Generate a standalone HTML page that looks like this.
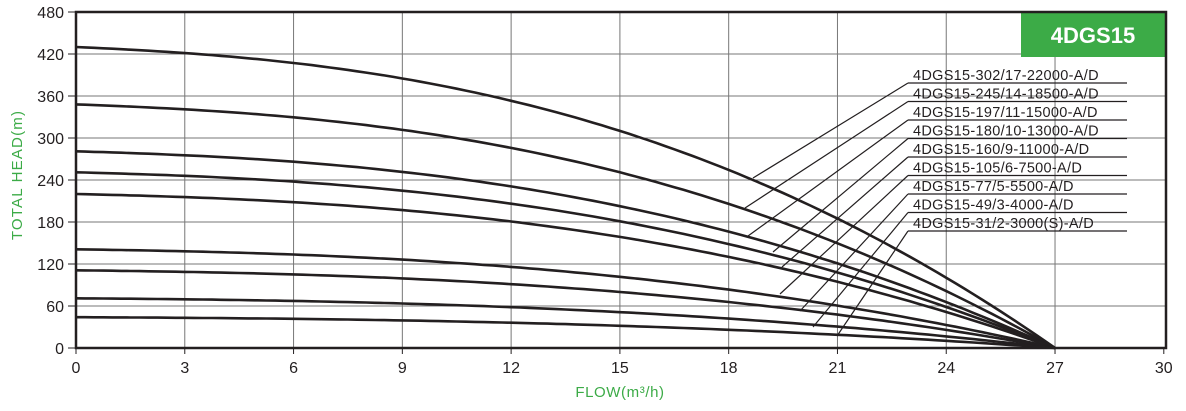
<!DOCTYPE html>
<html><head><meta charset="utf-8"><style>
body{margin:0;background:#fff;width:1186px;height:406px;overflow:hidden}
svg text{font-family:"Liberation Sans",sans-serif}
</style></head><body>
<svg id="s" width="1186" height="406" xmlns="http://www.w3.org/2000/svg"></svg>
<script>
const s=document.getElementById('s');
const X0=76,XS=36.26,Y0=348,YS=0.7;
const px=q=>X0+q*XS, py=h=>Y0-h*YS;
let h='';
for(let i=1;i<10;i++){h+=`<line x1="${px(i*3)}" y1="12" x2="${px(i*3)}" y2="348" stroke="#777" stroke-width="1"/>`;}
for(let i=1;i<8;i++){h+=`<line x1="76" y1="${py(i*60)}" x2="1166" y2="${py(i*60)}" stroke="#777" stroke-width="1"/>`;}
h+=`<rect x="1021" y="12" width="145" height="45" fill="#3cab47"/><text x="1093" y="43" text-anchor="middle" font-size="22" font-weight="bold" fill="#fff">4DGS15</text>`;
h+=`<rect x="76" y="12" width="1090" height="336" fill="none" stroke="#231f20" stroke-width="2.5"/>`;
for(let i=0;i<=10;i++){let x=px(i*3);h+=`<line x1="${x}" y1="348" x2="${x}" y2="354" stroke="#231f20"/><text x="${x}" y="373" text-anchor="middle" font-size="16" fill="#231f20">${i*3}</text>`;}
for(let i=0;i<=8;i++){let y=py(i*60);h+=`<line x1="68" y1="${y}" x2="76" y2="${y}" stroke="#231f20"/><text x="64" y="${y+6}" text-anchor="end" font-size="16" fill="#231f20">${i*60}</text>`;}
h+=`<text x="620" y="397" text-anchor="middle" font-size="15" letter-spacing="0.6" fill="#3cab47">FLOW(m³/h)</text>`;
h+=`<text transform="translate(22,175) rotate(-90)" text-anchor="middle" font-size="15" letter-spacing="1.2" fill="#3cab47">TOTAL HEAD(m)</text>`;
const H=[430,348,281,251,220,141,111,71,44];
const f=(H0,q)=>{const r=q/27;return H0*(1-0.15*r-0.85*Math.pow(r,2.5));};
H.forEach(H0=>{let d='';for(let q=0;q<=27.001;q+=0.25){d+=(q?'L':'M')+px(q).toFixed(1)+','+py(f(H0,q)).toFixed(1);}h+=`<path d="${d}" fill="none" stroke="#231f20" stroke-width="2.6"/>`;});
const L=["4DGS15-302/17-22000-A/D","4DGS15-245/14-18500-A/D","4DGS15-197/11-15000-A/D","4DGS15-180/10-13000-A/D","4DGS15-160/9-11000-A/D","4DGS15-105/6-7500-A/D","4DGS15-77/5-5500-A/D","4DGS15-49/3-4000-A/D","4DGS15-31/2-3000(S)-A/D"];
const E=[[753,178],[745,208],[748,236],[773,252],[782,267],[780,294],[800,311],[813,327],[837,336]];
L.forEach((t,i)=>{let uy=83+i*18.5;h+=`<text x="913" y="${uy-3}" font-size="14.5" letter-spacing="0.3" fill="#231f20">${t}</text><line x1="908" y1="${uy}" x2="1127" y2="${uy}" stroke="#231f20" stroke-width="1.2"/>`;
h+=`<line x1="908" y1="${uy}" x2="${E[i][0]}" y2="${E[i][1]}" stroke="#231f20" stroke-width="1.2"/>`;});
s.innerHTML=h;
</script>
</body></html>
